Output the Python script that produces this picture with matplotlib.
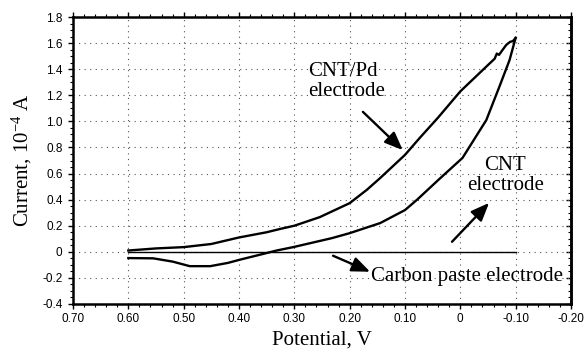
import numpy as np
import matplotlib
matplotlib.use("Agg")
import matplotlib.pyplot as plt
from matplotlib.ticker import MultipleLocator, FixedFormatter, FixedLocator

# potential (V) and current (1e-4 A)
cntpd_v = [0.60, 0.55, 0.50, 0.45, 0.40, 0.35, 0.325, 0.30, 0.254, 0.20, 0.169, 0.145,
           0.10, 0.074, 0.04, 0.0, -0.047, -0.062, -0.066, -0.070, -0.075, -0.083,
           -0.090, -0.095, -0.10]
cntpd_i = [0.01, 0.026, 0.036, 0.06, 0.11, 0.15, 0.176, 0.20, 0.266, 0.373, 0.475, 0.565,
           0.743, 0.87, 1.03, 1.23, 1.42, 1.48, 1.52, 1.51, 1.54, 1.586,
           1.61, 1.615, 1.64]

cnt_v = [0.60, 0.555, 0.52, 0.489, 0.452, 0.42, 0.398, 0.36, 0.332, 0.302, 0.232, 0.20,
         0.145, 0.10, 0.078, 0.04, -0.004, -0.047, -0.071, -0.089, -0.10]
cnt_i = [-0.048, -0.05, -0.075, -0.11, -0.11, -0.085, -0.06, -0.02, 0.01, 0.036, 0.105, 0.143,
         0.22, 0.32, 0.40, 0.55, 0.72, 1.01, 1.27, 1.47, 1.64]

paste_v = [0.60, -0.10]
paste_i = [0.0, 0.0]

x_ticks = [0.70, 0.60, 0.50, 0.40, 0.30, 0.20, 0.10, 0.0, -0.10, -0.20]
x_labels = ["0.70", "0.60", "0.50", "0.40", "0.30", "0.20", "0.10", "0", "-0.10", "-0.20"]
y_ticks = [-0.4, -0.2, 0.0, 0.2, 0.4, 0.6, 0.8, 1.0, 1.2, 1.4, 1.6, 1.8]
y_labels = ["-0.4", "-0.2", "0", "0.2", "0.4", "0.6", "0.8", "1.0", "1.2", "1.4", "1.6", "1.8"]

plt.rcParams["mathtext.fontset"] = "custom"
plt.rcParams["mathtext.rm"] = "Liberation Serif"
plt.rcParams["mathtext.default"] = "rm"

fig = plt.figure(figsize=(5.85, 3.55), dpi=100)
ax = fig.add_axes([0.1248, 0.1437, 0.8512, 0.8083])

ax.plot(cntpd_v, cntpd_i, color="black", lw=1.7, solid_joinstyle="round")
ax.plot(cnt_v, cnt_i, color="black", lw=1.7, solid_joinstyle="round")
ax.plot(paste_v, paste_i, color="black", lw=1.0)

ax.set_xlim(0.70, -0.20)
ax.set_ylim(-0.4, 1.8)

ax.xaxis.set_major_locator(FixedLocator(x_ticks))
ax.xaxis.set_major_formatter(FixedFormatter(x_labels))
ax.xaxis.set_minor_locator(MultipleLocator(0.02))
ax.yaxis.set_major_locator(FixedLocator(y_ticks))
ax.yaxis.set_major_formatter(FixedFormatter(y_labels))
ax.yaxis.set_minor_locator(MultipleLocator(0.05))

for lab in ax.get_xticklabels() + ax.get_yticklabels():
    lab.set_fontfamily("Liberation Sans")
    lab.set_fontsize(8.5)

ax.tick_params(axis="both", which="major", direction="out", length=3.5, width=1.0)
ax.tick_params(axis="both", which="minor", direction="out", length=2, width=0.8)
ax.tick_params(axis="x", which="both", top=True, pad=3)
ax.tick_params(axis="y", which="major", pad=4)

sec = ax.secondary_yaxis("right")
sec.yaxis.set_major_locator(FixedLocator(y_ticks))
sec.yaxis.set_minor_locator(MultipleLocator(0.05))
sec.tick_params(which="major", direction="in", length=3.5, width=1.0, labelright=False)
sec.tick_params(which="minor", direction="in", length=2, width=0.8)
sec.spines["right"].set_linewidth(1.8)

for s in ax.spines.values():
    s.set_linewidth(1.8)

ax.grid(True, which="major", color="#555555", linestyle=(0, (1, 4)), linewidth=0.8)

serif = "Liberation Serif"
ax.set_xlabel("Potential, V", fontfamily=serif, fontsize=15, labelpad=4)
ax.set_ylabel("Current, 10$^{-4}$ A", fontfamily=serif, fontsize=15, labelpad=6)

arrow = dict(arrowstyle="-|>,head_length=1.1,head_width=0.45", color="black", lw=1.7,
             shrinkA=0, shrinkB=0)

ax.text(0.275, 1.306, "CNT/Pd\nelectrode", fontfamily=serif, fontsize=15,
        ha="left", va="center", multialignment="left", linespacing=1.05)
ax.annotate("", xy=(0.104, 0.78), xytext=(0.176, 1.073), arrowprops=arrow)

ax.text(-0.081, 0.586, "CNT\nelectrode", fontfamily=serif, fontsize=15,
        ha="center", va="center", multialignment="center", linespacing=1.05)
ax.annotate("", xy=(-0.052, 0.375), xytext=(0.015, 0.077), arrowprops=arrow)

ax.text(0.162, -0.19, "Carbon paste electrode", fontfamily=serif, fontsize=15,
        ha="left", va="center")
ax.annotate("", xy=(0.163, -0.153), xytext=(0.230, -0.03), arrowprops=arrow)

fig.savefig("out.png", dpi=100)
